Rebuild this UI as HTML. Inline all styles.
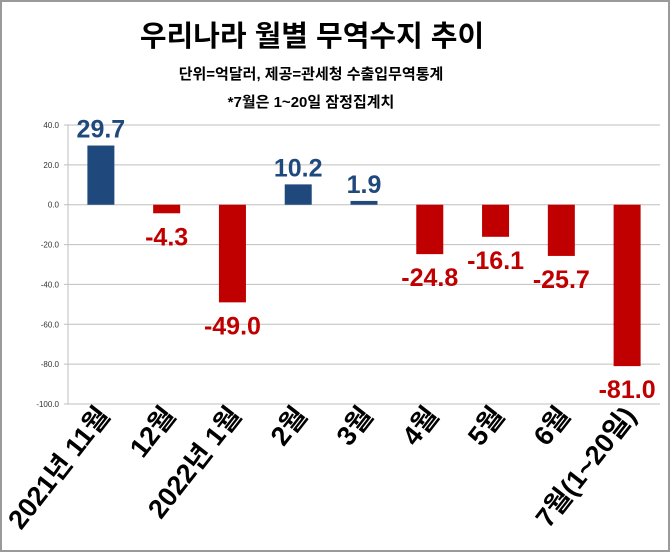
<!DOCTYPE html>
<html><head><meta charset="utf-8"><style>
body{margin:0;background:#fff;}
svg{display:block;font-family:"Liberation Sans","Noto Sans CJK KR",sans-serif;}
</style></head><body>
<svg id="c" width="670" height="552">
<rect x="1" y="1" width="668" height="550" fill="#fff" stroke="#9a9a9a" stroke-width="2"/>
<text x="312" y="46" text-anchor="middle" font-size="29" font-weight="bold" fill="#000">우리나라 월별 무역수지 추이</text>
<text x="311" y="79" text-anchor="middle" font-size="15" font-weight="bold" fill="#000">단위=억달러, 제공=관세청 수출입무역통계</text>
<text x="311" y="107" text-anchor="middle" font-size="15" font-weight="bold" fill="#000">*7월은 1~20일 잠정집계치</text>
<g id="plot"></g>
</svg>
<script>
const categories=["2021년 11월","12월","2022년 1월","2월","3월","4월","5월","6월","7월(1~20일)"];
const values=[29.7,-4.3,-49.0,10.2,1.9,-24.8,-16.1,-25.7,-81.0];
const ticks=[40,20,0,-20,-40,-60,-80,-100];
const NS="http://www.w3.org/2000/svg";
const g=document.getElementById('plot');
const x0=68,x1=660,yTop=125,yBot=404,vMax=40,vMin=-100;
const bw=(x1-x0)/categories.length;
function y(v){return yTop+(vMax-v)/(vMax-vMin)*(yBot-yTop);}
function xc(i){return x0+bw*(i+0.5);}
function mk(t,a){const e=document.createElementNS(NS,t);for(const k in a)e.setAttribute(k,a[k]);g.appendChild(e);return e;}
ticks.forEach(t=>{
  const l=mk('line',{x1:x0-4,x2:x1,y1:y(t),y2:y(t),stroke:'#bfbfbf','stroke-width':1});
  
  
  const tx=mk('text',{x:x0-9,y:y(t)+3,'text-anchor':'end','font-size':8,fill:'#333'});
  tx.textContent=t.toFixed(1);
  
  
});
const ax=mk('line',{x1:x0,x2:x0,y1:yTop,y2:yBot,stroke:'#bfbfbf','stroke-width':1});


values.forEach((v,i)=>{
  const pos=v>=0,c=pos?'#1f497d':'#c00000';
  const w=27,top=Math.min(y(v),y(0)),h=Math.abs(y(v)-y(0));
  const r=mk('rect',{x:xc(i)-w/2,y:top,width:w,height:Math.max(h,1),fill:c});
  
  
  const lb=mk('text',{x:xc(i),y:pos?y(v)-8:y(v)+32,'text-anchor':'middle','font-size':25,'font-weight':'bold',fill:c});
  lb.textContent=v.toFixed(1);
  
  
  const cl=mk('text',{x:0,y:0,'text-anchor':'end','font-size':27,'font-weight':'bold',fill:'#000',transform:'translate('+(xc(i)+10)+',416) rotate(-52)'});
  cl.textContent=categories[i];
  
  
});
</script>
</body></html>
